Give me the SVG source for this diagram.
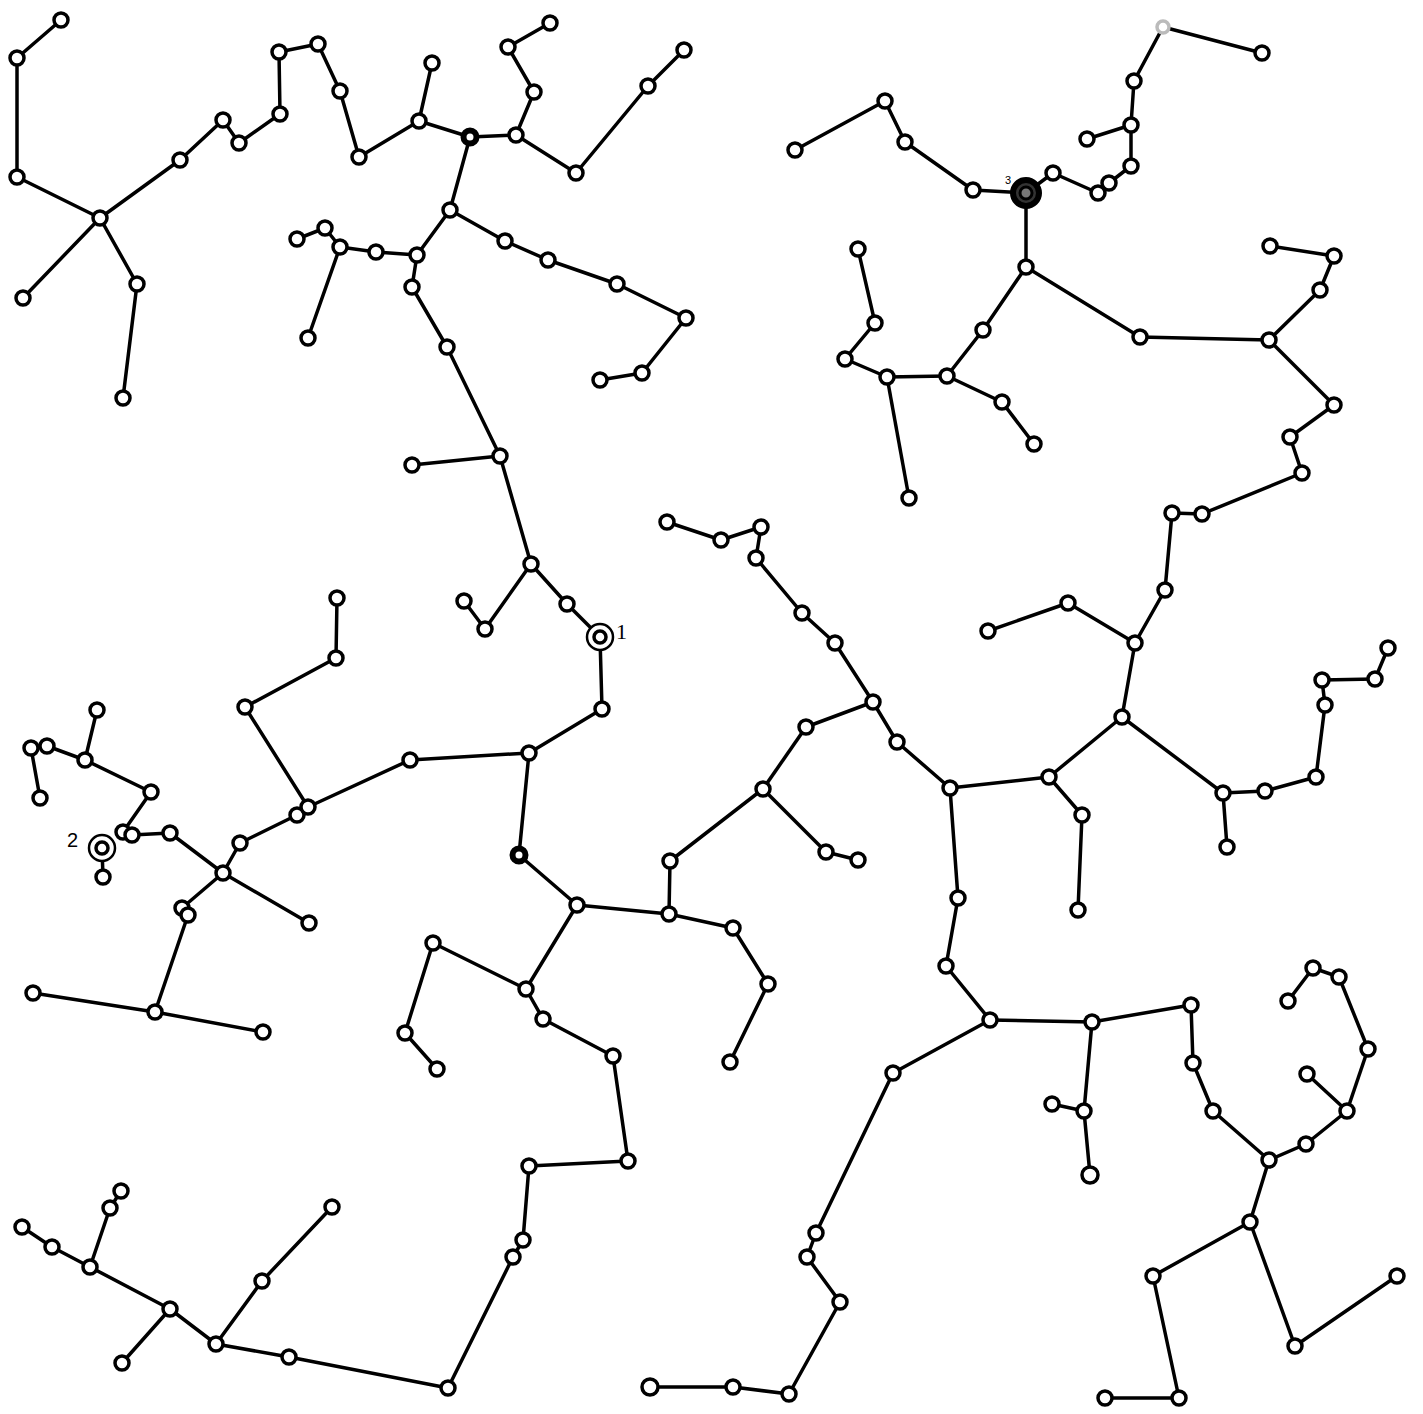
<svg xmlns="http://www.w3.org/2000/svg" width="1423" height="1414" viewBox="0 0 1423 1414">
<style>
.e line{stroke:#000;stroke-width:3.5;stroke-linecap:round}
.n circle{fill:#fff;stroke:#000;stroke-width:3.5}
.d circle{stroke-width:6}
.lbl{font-family:"Liberation Sans",Arial,sans-serif;font-size:20px;fill:#000}
</style>
<rect width="1423" height="1414" fill="#fff"/>
<g id="connectors" class="e">
<line x1="61" y1="20" x2="17" y2="58"/><line x1="17" y1="58" x2="17" y2="177"/><line x1="17" y1="177" x2="100" y2="218"/><line x1="100" y1="218" x2="23" y2="298"/><line x1="100" y1="218" x2="137" y2="284"/><line x1="137" y1="284" x2="123" y2="398"/><line x1="100" y1="218" x2="180" y2="160"/><line x1="180" y1="160" x2="223" y2="120"/><line x1="223" y1="120" x2="239" y2="143"/><line x1="239" y1="143" x2="280" y2="114"/><line x1="280" y1="114" x2="279" y2="52"/><line x1="279" y1="52" x2="318" y2="44"/><line x1="318" y1="44" x2="340" y2="91"/><line x1="340" y1="91" x2="359" y2="157"/><line x1="359" y1="157" x2="419" y2="121"/><line x1="419" y1="121" x2="432" y2="63"/><line x1="419" y1="121" x2="470" y2="137"/><line x1="470" y1="137" x2="450" y2="210"/><line x1="450" y1="210" x2="417" y2="255"/><line x1="417" y1="255" x2="376" y2="252"/><line x1="376" y1="252" x2="340" y2="247"/><line x1="340" y1="247" x2="325" y2="228"/><line x1="325" y1="228" x2="297" y2="239"/><line x1="340" y1="247" x2="308" y2="338"/><line x1="417" y1="255" x2="412" y2="287"/><line x1="412" y1="287" x2="447" y2="347"/><line x1="447" y1="347" x2="500" y2="456"/><line x1="500" y1="456" x2="412" y2="465"/><line x1="500" y1="456" x2="531" y2="564"/>
<line x1="470" y1="137" x2="516" y2="135"/><line x1="516" y1="135" x2="534" y2="92"/><line x1="534" y1="92" x2="508" y2="47"/><line x1="508" y1="47" x2="550" y2="23"/><line x1="516" y1="135" x2="576" y2="173"/><line x1="576" y1="173" x2="648" y2="86"/><line x1="648" y1="86" x2="684" y2="50"/>
<line x1="450" y1="210" x2="505" y2="241"/><line x1="505" y1="241" x2="548" y2="260"/><line x1="548" y1="260" x2="617" y2="284"/><line x1="617" y1="284" x2="686" y2="318"/><line x1="686" y1="318" x2="642" y2="373"/><line x1="642" y1="373" x2="600" y2="380"/>
<line x1="795" y1="150" x2="885" y2="101"/><line x1="885" y1="101" x2="905" y2="142"/><line x1="905" y1="142" x2="973" y2="190"/><line x1="973" y1="190" x2="1026" y2="193"/><line x1="1026" y1="193" x2="1053" y2="173"/><line x1="1053" y1="173" x2="1098" y2="193"/><line x1="1098" y1="193" x2="1109" y2="183"/><line x1="1109" y1="183" x2="1131" y2="166"/><line x1="1131" y1="166" x2="1131" y2="125"/><line x1="1131" y1="125" x2="1087" y2="139"/><line x1="1131" y1="125" x2="1134" y2="81"/><line x1="1134" y1="81" x2="1163" y2="27"/><line x1="1163" y1="27" x2="1262" y2="53"/><line x1="1026" y1="193" x2="1026" y2="267"/><line x1="1026" y1="267" x2="983" y2="330"/><line x1="983" y1="330" x2="947" y2="376"/><line x1="947" y1="376" x2="1002" y2="402"/><line x1="1002" y1="402" x2="1034" y2="444"/><line x1="1026" y1="267" x2="1140" y2="337"/><line x1="1140" y1="337" x2="1269" y2="340"/><line x1="1269" y1="340" x2="1320" y2="290"/><line x1="1320" y1="290" x2="1334" y2="256"/><line x1="1334" y1="256" x2="1270" y2="246"/><line x1="1269" y1="340" x2="1334" y2="405"/><line x1="1334" y1="405" x2="1290" y2="437"/><line x1="1290" y1="437" x2="1302" y2="473"/>
<line x1="858" y1="249" x2="875" y2="323"/><line x1="875" y1="323" x2="845" y2="359"/><line x1="845" y1="359" x2="887" y2="377"/><line x1="887" y1="377" x2="947" y2="376"/><line x1="887" y1="377" x2="909" y2="498"/>
<line x1="1302" y1="473" x2="1202" y2="514"/><line x1="1202" y1="514" x2="1172" y2="513"/><line x1="1172" y1="513" x2="1165" y2="590"/><line x1="1165" y1="590" x2="1135" y2="643"/><line x1="1135" y1="643" x2="1068" y2="603"/><line x1="1068" y1="603" x2="988" y2="631"/><line x1="1135" y1="643" x2="1122" y2="717"/><line x1="1122" y1="717" x2="1049" y2="777"/><line x1="1049" y1="777" x2="950" y2="788"/><line x1="1049" y1="777" x2="1082" y2="815"/><line x1="1082" y1="815" x2="1078" y2="910"/><line x1="950" y1="788" x2="958" y2="898"/><line x1="1122" y1="717" x2="1223" y2="793"/><line x1="1223" y1="793" x2="1227" y2="847"/><line x1="1223" y1="793" x2="1265" y2="791"/><line x1="1265" y1="791" x2="1316" y2="777"/><line x1="1316" y1="777" x2="1325" y2="705"/><line x1="1325" y1="705" x2="1322" y2="680"/><line x1="1322" y1="680" x2="1375" y2="679"/><line x1="1375" y1="679" x2="1388" y2="648"/>
<line x1="531" y1="564" x2="485" y2="629"/><line x1="485" y1="629" x2="464" y2="601"/><line x1="531" y1="564" x2="567" y2="604"/><line x1="567" y1="604" x2="600" y2="637"/><line x1="600" y1="637" x2="602" y2="709"/><line x1="602" y1="709" x2="529" y2="753"/><line x1="529" y1="753" x2="519" y2="855"/><line x1="519" y1="855" x2="577" y2="905"/><line x1="577" y1="905" x2="669" y2="914"/><line x1="669" y1="914" x2="670" y2="861"/><line x1="670" y1="861" x2="763" y2="789"/><line x1="763" y1="789" x2="806" y2="727"/><line x1="806" y1="727" x2="873" y2="702"/><line x1="763" y1="789" x2="826" y2="852"/><line x1="826" y1="852" x2="858" y2="860"/><line x1="873" y1="702" x2="897" y2="742"/><line x1="897" y1="742" x2="950" y2="788"/><line x1="873" y1="702" x2="835" y2="643"/><line x1="835" y1="643" x2="802" y2="613"/><line x1="802" y1="613" x2="756" y2="558"/><line x1="756" y1="558" x2="761" y2="527"/><line x1="761" y1="527" x2="721" y2="540"/><line x1="721" y1="540" x2="667" y2="522"/><line x1="669" y1="914" x2="733" y2="928"/>
<line x1="529" y1="753" x2="410" y2="760"/><line x1="410" y1="760" x2="308" y2="807"/><line x1="308" y1="807" x2="245" y2="707"/><line x1="245" y1="707" x2="336" y2="658"/><line x1="336" y1="658" x2="337" y2="598"/><line x1="308" y1="807" x2="297" y2="815"/><line x1="297" y1="815" x2="240" y2="843"/><line x1="240" y1="843" x2="223" y2="873"/><line x1="223" y1="873" x2="309" y2="923"/><line x1="223" y1="873" x2="182" y2="908"/><line x1="182" y1="908" x2="188" y2="915"/><line x1="188" y1="915" x2="155" y2="1012"/><line x1="223" y1="873" x2="170" y2="833"/><line x1="170" y1="833" x2="132" y2="835"/><line x1="132" y1="835" x2="123" y2="832"/><line x1="123" y1="832" x2="151" y2="792"/><line x1="151" y1="792" x2="85" y2="760"/><line x1="85" y1="760" x2="97" y2="710"/><line x1="85" y1="760" x2="47" y2="746"/><line x1="47" y1="746" x2="31" y2="748"/><line x1="31" y1="748" x2="40" y2="798"/><line x1="102" y1="848" x2="103" y2="877"/>
<line x1="155" y1="1012" x2="33" y2="993"/><line x1="155" y1="1012" x2="263" y2="1032"/><line x1="433" y1="943" x2="405" y2="1033"/><line x1="405" y1="1033" x2="437" y2="1069"/><line x1="433" y1="943" x2="526" y2="989"/><line x1="577" y1="905" x2="526" y2="989"/><line x1="526" y1="989" x2="543" y2="1019"/><line x1="543" y1="1019" x2="613" y2="1056"/><line x1="613" y1="1056" x2="628" y2="1161"/><line x1="628" y1="1161" x2="529" y2="1166"/><line x1="529" y1="1166" x2="523" y2="1240"/><line x1="523" y1="1240" x2="513" y2="1257"/><line x1="513" y1="1257" x2="448" y2="1388"/>
<line x1="733" y1="928" x2="768" y2="984"/><line x1="768" y1="984" x2="730" y2="1062"/>
<line x1="22" y1="1227" x2="52" y2="1247"/><line x1="52" y1="1247" x2="90" y2="1267"/><line x1="90" y1="1267" x2="110" y2="1208"/><line x1="110" y1="1208" x2="121" y2="1191"/><line x1="90" y1="1267" x2="170" y2="1309"/><line x1="170" y1="1309" x2="122" y2="1363"/><line x1="170" y1="1309" x2="216" y2="1344"/><line x1="216" y1="1344" x2="262" y2="1281"/><line x1="262" y1="1281" x2="332" y2="1207"/><line x1="216" y1="1344" x2="289" y2="1357"/><line x1="289" y1="1357" x2="448" y2="1388"/>
<line x1="958" y1="898" x2="946" y2="966"/><line x1="946" y1="966" x2="990" y2="1020"/><line x1="990" y1="1020" x2="893" y2="1073"/><line x1="893" y1="1073" x2="816" y2="1233"/><line x1="816" y1="1233" x2="807" y2="1257"/><line x1="807" y1="1257" x2="840" y2="1302"/><line x1="840" y1="1302" x2="789" y2="1394"/><line x1="789" y1="1394" x2="733" y2="1387"/><line x1="733" y1="1387" x2="650" y2="1387"/>
<line x1="990" y1="1020" x2="1092" y2="1022"/><line x1="1092" y1="1022" x2="1191" y2="1005"/><line x1="1092" y1="1022" x2="1084" y2="1111"/><line x1="1084" y1="1111" x2="1052" y2="1104"/><line x1="1084" y1="1111" x2="1090" y2="1175"/><line x1="1191" y1="1005" x2="1193" y2="1063"/><line x1="1193" y1="1063" x2="1213" y2="1111"/><line x1="1213" y1="1111" x2="1269" y2="1160"/><line x1="1269" y1="1160" x2="1306" y2="1144"/><line x1="1306" y1="1144" x2="1347" y2="1111"/><line x1="1347" y1="1111" x2="1307" y2="1074"/><line x1="1347" y1="1111" x2="1368" y2="1049"/><line x1="1368" y1="1049" x2="1339" y2="977"/><line x1="1339" y1="977" x2="1313" y2="968"/><line x1="1313" y1="968" x2="1288" y2="1001"/><line x1="1269" y1="1160" x2="1250" y2="1222"/><line x1="1250" y1="1222" x2="1153" y2="1276"/><line x1="1153" y1="1276" x2="1179" y2="1398"/><line x1="1179" y1="1398" x2="1105" y2="1398"/><line x1="1250" y1="1222" x2="1295" y2="1346"/><line x1="1295" y1="1346" x2="1397" y2="1276"/>
</g>
<g id="nodes" class="n">
<g id="A1"><circle cx="61" cy="20" r="7"/></g><g id="A2"><circle cx="17" cy="58" r="7"/></g><g id="A3"><circle cx="17" cy="177" r="7"/></g><g id="A4"><circle cx="100" cy="218" r="7"/></g><g id="A5"><circle cx="23" cy="298" r="7"/></g><g id="A6"><circle cx="137" cy="284" r="7"/></g><g id="A7"><circle cx="123" cy="398" r="7"/></g><g id="A8"><circle cx="180" cy="160" r="7"/></g><g id="A9"><circle cx="223" cy="120" r="7"/></g><g id="A10"><circle cx="239" cy="143" r="7"/></g><g id="A11"><circle cx="280" cy="114" r="7"/></g><g id="A12"><circle cx="279" cy="52" r="7"/></g><g id="A13"><circle cx="318" cy="44" r="7"/></g><g id="A14"><circle cx="340" cy="91" r="7"/></g><g id="A15"><circle cx="359" cy="157" r="7"/></g><g id="A16"><circle cx="419" cy="121" r="7"/></g><g id="A17"><circle cx="432" cy="63" r="7"/></g><g id="A18" class="d"><circle cx="470" cy="137" r="6.5"/></g><g id="A19"><circle cx="450" cy="210" r="7"/></g><g id="A20"><circle cx="297" cy="239" r="7"/></g><g id="A21"><circle cx="325" cy="228" r="7"/></g><g id="A22"><circle cx="340" cy="247" r="7"/></g><g id="A23"><circle cx="376" cy="252" r="7"/></g><g id="A24"><circle cx="417" cy="255" r="7"/></g><g id="A25"><circle cx="412" cy="287" r="7"/></g><g id="A26"><circle cx="308" cy="338" r="7"/></g><g id="A27"><circle cx="447" cy="347" r="7"/></g><g id="A28"><circle cx="412" cy="465" r="7"/></g>
<g id="B1"><circle cx="516" cy="135" r="7"/></g><g id="B2"><circle cx="508" cy="47" r="7"/></g><g id="B3"><circle cx="550" cy="23" r="7"/></g><g id="B4"><circle cx="534" cy="92" r="7"/></g><g id="B5"><circle cx="576" cy="173" r="7"/></g><g id="B6"><circle cx="648" cy="86" r="7"/></g><g id="B7"><circle cx="684" cy="50" r="7"/></g>
<g id="C1"><circle cx="505" cy="241" r="7"/></g><g id="C2"><circle cx="548" cy="260" r="7"/></g><g id="C3"><circle cx="617" cy="284" r="7"/></g><g id="C4"><circle cx="686" cy="318" r="7"/></g><g id="C5"><circle cx="642" cy="373" r="7"/></g><g id="C6"><circle cx="600" cy="380" r="7"/></g><g id="D1"><circle cx="500" cy="456" r="7"/></g>
<g id="E1"><circle cx="795" cy="150" r="7"/></g><g id="E2"><circle cx="885" cy="101" r="7"/></g><g id="E3"><circle cx="905" cy="142" r="7"/></g><g id="E4"><circle cx="973" cy="190" r="7"/></g>
<g id="G0"><circle cx="1026" cy="193" r="13" style="stroke-width:6;fill:#333"/><circle cx="1026" cy="193" r="6" style="stroke-width:3;fill:#777"/></g>
<g id="G1"><circle cx="1053" cy="173" r="7"/></g><g id="G2"><circle cx="1098" cy="193" r="7"/></g><g id="G3"><circle cx="1109" cy="183" r="7"/></g><g id="G4"><circle cx="1131" cy="166" r="7"/></g><g id="G5"><circle cx="1131" cy="125" r="7"/></g><g id="G6"><circle cx="1087" cy="139" r="7"/></g><g id="G7"><circle cx="1134" cy="81" r="7"/></g><g id="G8"><circle cx="1163" cy="27" r="6" style="stroke:#bbb"/></g><g id="G9"><circle cx="1262" cy="53" r="7"/></g><g id="G10"><circle cx="1026" cy="267" r="7"/></g><g id="G11"><circle cx="983" cy="330" r="7"/></g><g id="F5"><circle cx="947" cy="376" r="7"/></g><g id="G12"><circle cx="1002" cy="402" r="7"/></g><g id="G13"><circle cx="1034" cy="444" r="7"/></g><g id="G14"><circle cx="1140" cy="337" r="7"/></g><g id="G15"><circle cx="1269" cy="340" r="7"/></g><g id="G16"><circle cx="1320" cy="290" r="7"/></g><g id="G17"><circle cx="1334" cy="256" r="7"/></g><g id="G18"><circle cx="1270" cy="246" r="7"/></g><g id="G19"><circle cx="1334" cy="405" r="7"/></g><g id="G20"><circle cx="1290" cy="437" r="7"/></g><g id="G21"><circle cx="1302" cy="473" r="7"/></g>
<g id="F1"><circle cx="858" cy="249" r="7"/></g><g id="F2"><circle cx="875" cy="323" r="7"/></g><g id="F3"><circle cx="845" cy="359" r="7"/></g><g id="F4"><circle cx="887" cy="377" r="7"/></g><g id="F6"><circle cx="909" cy="498" r="7"/></g>
<g id="H1"><circle cx="1202" cy="514" r="7"/></g><g id="H2"><circle cx="1172" cy="513" r="7"/></g><g id="H3"><circle cx="1165" cy="590" r="7"/></g><g id="H4"><circle cx="1135" cy="643" r="7"/></g><g id="H5"><circle cx="1068" cy="603" r="7"/></g><g id="H6"><circle cx="988" cy="631" r="7"/></g><g id="H7"><circle cx="1122" cy="717" r="7"/></g><g id="H8"><circle cx="1049" cy="777" r="7"/></g><g id="H9"><circle cx="950" cy="788" r="7"/></g><g id="H10"><circle cx="1082" cy="815" r="7"/></g><g id="H11"><circle cx="1078" cy="910" r="7"/></g><g id="H12"><circle cx="958" cy="898" r="7"/></g><g id="H13"><circle cx="1223" cy="793" r="7"/></g><g id="H14"><circle cx="1227" cy="847" r="7"/></g><g id="H15"><circle cx="1265" cy="791" r="7"/></g><g id="H16"><circle cx="1316" cy="777" r="7"/></g><g id="H17"><circle cx="1325" cy="705" r="7"/></g><g id="H18"><circle cx="1322" cy="680" r="7"/></g><g id="H19"><circle cx="1375" cy="679" r="7"/></g><g id="H20"><circle cx="1388" cy="648" r="7"/></g>
<g id="I1"><circle cx="531" cy="564" r="7"/></g><g id="I2"><circle cx="485" cy="629" r="7"/></g><g id="I3"><circle cx="464" cy="601" r="7"/></g><g id="I4"><circle cx="567" cy="604" r="7"/></g>
<g id="I5"><circle cx="600" cy="637" r="13" style="stroke-width:2.5"/><circle cx="600" cy="637" r="6"/></g>
<g id="I6"><circle cx="602" cy="709" r="7"/></g><g id="I7"><circle cx="529" cy="753" r="7"/></g><g id="I8" class="d"><circle cx="519" cy="855" r="6.5"/></g><g id="I9"><circle cx="577" cy="905" r="7"/></g><g id="I10"><circle cx="669" cy="914" r="7"/></g><g id="I11"><circle cx="670" cy="861" r="7"/></g><g id="I12"><circle cx="763" cy="789" r="7"/></g><g id="I13"><circle cx="806" cy="727" r="7"/></g><g id="I14"><circle cx="873" cy="702" r="7"/></g><g id="I15"><circle cx="897" cy="742" r="7"/></g><g id="I16"><circle cx="826" cy="852" r="7"/></g><g id="I17"><circle cx="858" cy="860" r="7"/></g><g id="I18"><circle cx="733" cy="928" r="7"/></g>
<g id="J1"><circle cx="667" cy="522" r="7"/></g><g id="J2"><circle cx="721" cy="540" r="7"/></g><g id="J3"><circle cx="761" cy="527" r="7"/></g><g id="J4"><circle cx="756" cy="558" r="7"/></g><g id="J5"><circle cx="802" cy="613" r="7"/></g><g id="J6"><circle cx="835" cy="643" r="7"/></g>
<g id="K1"><circle cx="410" cy="760" r="7"/></g><g id="K3"><circle cx="297" cy="815" r="7"/></g><g id="K2"><circle cx="308" cy="807" r="7"/></g><g id="K4"><circle cx="245" cy="707" r="7"/></g><g id="K5"><circle cx="336" cy="658" r="7"/></g><g id="K6"><circle cx="337" cy="598" r="7"/></g><g id="K7"><circle cx="240" cy="843" r="7"/></g><g id="K8"><circle cx="223" cy="873" r="7"/></g><g id="K9"><circle cx="309" cy="923" r="7"/></g><g id="K10"><circle cx="182" cy="908" r="7"/></g><g id="K11"><circle cx="188" cy="915" r="7"/></g><g id="K12"><circle cx="170" cy="833" r="7"/></g><g id="K14"><circle cx="123" cy="832" r="7"/></g><g id="K13"><circle cx="132" cy="835" r="7"/></g><g id="K15"><circle cx="151" cy="792" r="7"/></g><g id="K16"><circle cx="85" cy="760" r="7"/></g><g id="K17"><circle cx="97" cy="710" r="7"/></g><g id="K19"><circle cx="31" cy="748" r="7"/></g><g id="K18"><circle cx="47" cy="746" r="7"/></g><g id="K20"><circle cx="40" cy="798" r="7"/></g>
<g id="K22"><circle cx="103" cy="877" r="7"/></g>
<g id="K21"><circle cx="102" cy="848" r="13" style="stroke-width:2.5"/><circle cx="102" cy="848" r="6"/></g>
<g id="L1"><circle cx="155" cy="1012" r="7"/></g><g id="L2"><circle cx="33" cy="993" r="7"/></g><g id="L3"><circle cx="263" cy="1032" r="7"/></g>
<g id="M1"><circle cx="433" cy="943" r="7"/></g><g id="M2"><circle cx="405" cy="1033" r="7"/></g><g id="M3"><circle cx="437" cy="1069" r="7"/></g>
<g id="N1"><circle cx="22" cy="1227" r="7"/></g><g id="N2"><circle cx="52" cy="1247" r="7"/></g><g id="N3"><circle cx="90" cy="1267" r="7"/></g><g id="N4"><circle cx="110" cy="1208" r="7"/></g><g id="N5"><circle cx="121" cy="1191" r="7"/></g><g id="N6"><circle cx="170" cy="1309" r="7"/></g><g id="N7"><circle cx="122" cy="1363" r="7"/></g><g id="N8"><circle cx="216" cy="1344" r="7"/></g><g id="N9"><circle cx="262" cy="1281" r="7"/></g><g id="N10"><circle cx="332" cy="1207" r="7"/></g><g id="N11"><circle cx="289" cy="1357" r="7"/></g><g id="N12"><circle cx="448" cy="1388" r="7"/></g>
<g id="O1"><circle cx="526" cy="989" r="7"/></g><g id="O2"><circle cx="543" cy="1019" r="7"/></g><g id="O3"><circle cx="613" cy="1056" r="7"/></g><g id="O4"><circle cx="628" cy="1161" r="7"/></g><g id="O5"><circle cx="529" cy="1166" r="7"/></g><g id="O6"><circle cx="523" cy="1240" r="7"/></g><g id="O7"><circle cx="513" cy="1257" r="7"/></g>
<g id="P1"><circle cx="768" cy="984" r="7"/></g><g id="P2"><circle cx="730" cy="1062" r="7"/></g>
<g id="Q1"><circle cx="946" cy="966" r="7"/></g><g id="Q2"><circle cx="893" cy="1073" r="7"/></g><g id="Q3"><circle cx="816" cy="1233" r="7"/></g><g id="Q4"><circle cx="807" cy="1257" r="7"/></g><g id="Q5"><circle cx="840" cy="1302" r="7"/></g><g id="Q6"><circle cx="789" cy="1394" r="7"/></g><g id="Q7"><circle cx="733" cy="1387" r="7"/></g><g id="Q8"><circle cx="650" cy="1387" r="8"/></g>
<g id="R1"><circle cx="990" cy="1020" r="7"/></g><g id="R2"><circle cx="1092" cy="1022" r="7"/></g><g id="R3"><circle cx="1191" cy="1005" r="7"/></g><g id="R4"><circle cx="1193" cy="1063" r="7"/></g><g id="R5"><circle cx="1213" cy="1111" r="7"/></g><g id="R6"><circle cx="1269" cy="1160" r="7"/></g><g id="R7"><circle cx="1306" cy="1144" r="7"/></g><g id="R8"><circle cx="1347" cy="1111" r="7"/></g><g id="R9"><circle cx="1307" cy="1074" r="7"/></g><g id="R10"><circle cx="1368" cy="1049" r="7"/></g><g id="R11"><circle cx="1339" cy="977" r="7"/></g><g id="R12"><circle cx="1313" cy="968" r="7"/></g><g id="R13"><circle cx="1288" cy="1001" r="7"/></g><g id="R14"><circle cx="1084" cy="1111" r="7"/></g><g id="R15"><circle cx="1052" cy="1104" r="7"/></g><g id="R16"><circle cx="1090" cy="1175" r="8"/></g><g id="R17"><circle cx="1250" cy="1222" r="7"/></g><g id="R18"><circle cx="1153" cy="1276" r="7"/></g><g id="R19"><circle cx="1179" cy="1398" r="7"/></g><g id="R20"><circle cx="1105" cy="1398" r="7"/></g><g id="R21"><circle cx="1295" cy="1346" r="7"/></g><g id="R22"><circle cx="1397" cy="1276" r="7"/></g>
</g>
<g id="labels">
<text class="lbl" x="616" y="639" style="font-family:'Liberation Serif',serif;font-size:22px">1</text>
<text class="lbl" x="67" y="847">2</text>
<text class="lbl" x="1005" y="184" style="font-size:11px">3</text>
</g>
</svg>
